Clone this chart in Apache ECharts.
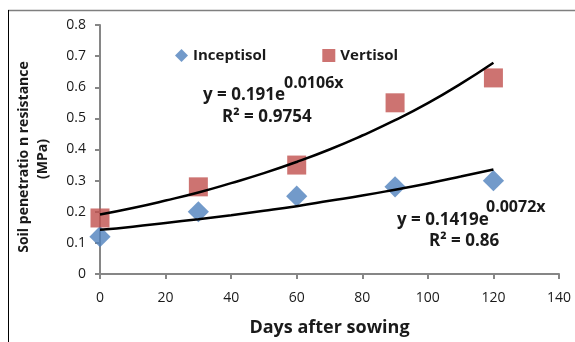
<!DOCTYPE html>
<html><head><meta charset="utf-8">
<script src="https://cdn.jsdelivr.net/npm/echarts@6/dist/echarts.min.js"></script>
<style>html,body{margin:0;padding:0;background:#fff}#c{width:575px;height:342px}</style>
</head><body><div id="c"></div>
<script>
var days = [0, 30, 60, 90, 120];
var inceptisol = [0.12, 0.20, 0.25, 0.28, 0.30];
var vertisol = [0.18, 0.28, 0.35, 0.55, 0.63];
var trendDays = [0, 10, 20, 30, 40, 50, 60, 70, 80, 90, 100, 110, 120];
var inceptisolTrend = [0.142, 0.152, 0.164, 0.176, 0.189, 0.203, 0.218, 0.235, 0.252, 0.271, 0.291, 0.313, 0.336];
var vertisolTrend = [0.191, 0.212, 0.236, 0.262, 0.292, 0.324, 0.360, 0.400, 0.445, 0.494, 0.549, 0.611, 0.679];
var yTicks = ['0', '0.1', '0.2', '0.3', '0.4', '0.5', '0.6', '0.7', '0.8'];

function pairs(xs, ys){ return xs.map(function(x,i){return [x, ys[i]];}); }

var chart = echarts.init(document.getElementById('c'));
var F = 'Open Sans, Liberation Sans, sans-serif';
var axisGray = '#868686';
var txt = '#1a1a1a';
function label(x, y, text, size){
  return {type: 'text', x: x, y: y, z: 10,
    style: {text: text, font: 'bold ' + size + 'px ' + F, fill: txt, verticalAlign: 'middle', align: 'left'}};
}
chart.setOption({
  animation: false,
  grid: {left: 100, right: 16, top: 25, bottom: 66},
  xAxis: {
    type: 'value', min: 0, max: 140, interval: 20,
    axisLine: {lineStyle: {color: axisGray, width: 2}},
    axisTick: {show: true, length: 5, lineStyle: {color: axisGray, width: 2}},
    splitLine: {show: false},
    axisLabel: {color: txt, fontFamily: F, fontSize: 14, margin: 17},
    name: 'Days after sowing', nameLocation: 'middle', nameGap: 45,
    nameTextStyle: {color: txt, fontFamily: F, fontSize: 18, fontWeight: 'bold'}
  },
  yAxis: {
    type: 'value', min: 0, max: 0.8, interval: 0.1,
    axisLine: {show: true, lineStyle: {color: axisGray, width: 2}},
    axisTick: {show: true, length: 5, lineStyle: {color: axisGray, width: 2}},
    splitLine: {show: false},
    axisLabel: {color: txt, fontFamily: F, fontSize: 14, margin: 14,
      formatter: function(v){ return yTicks[Math.round(v*10)]; }}
  },
  legend: {
    left: 170, top: 43, itemGap: 56, itemWidth: 13, itemHeight: 13,
    textStyle: {color: txt, fontFamily: F, fontSize: 15, fontWeight: 'bold'},
    data: [
      {name: 'Inceptisol', icon: 'diamond'},
      {name: 'Vertisol', icon: 'rect'}
    ]
  },
  series: [
    {name: 'InceptisolTrend', type: 'line', data: pairs(trendDays, inceptisolTrend), smooth: true,
     showSymbol: false, lineStyle: {color: '#000', width: 2.5}, z: 3},
    {name: 'VertisolTrend', type: 'line', data: pairs(trendDays, vertisolTrend), smooth: true,
     showSymbol: false, lineStyle: {color: '#000', width: 2.5}, z: 3},
    {name: 'Inceptisol', type: 'scatter', data: pairs(days, inceptisol), symbol: 'rect',
     symbolSize: 15, symbolRotate: 45, itemStyle: {color: '#4F81BD'}, z: 2},
    {name: 'Vertisol', type: 'scatter', data: pairs(days, vertisol), symbol: 'rect',
     symbolSize: 19, itemStyle: {color: '#C0504D'}, z: 2}
  ],
  graphic: [
    {type: 'line', shape: {x1: 8, y1: 10.5, x2: 575, y2: 10.5}, style: {stroke: '#7f7f7f', lineWidth: 1.5}},
    {type: 'line', shape: {x1: 8.5, y1: 10, x2: 8.5, y2: 342}, style: {stroke: '#000', lineWidth: 1}},
    {type: 'text', x: 24, y: 157, rotation: Math.PI / 2, z: 10,
     style: {text: 'Soil penetratio n resistance', font: 'bold 14px ' + F, fill: txt, align: 'center', verticalAlign: 'middle'}},
    {type: 'text', x: 43, y: 159, rotation: Math.PI / 2, z: 10,
     style: {text: '(MPa)', font: 'bold 14px ' + F, fill: txt, align: 'center', verticalAlign: 'middle'}},
    label(203, 95, 'y = 0.191e', 17),
    label(284, 83, '0.0106x', 16),
    label(222, 117, 'R² = 0.9754', 17),
    label(397, 220, 'y = 0.1419e', 17),
    label(486, 207, '0.0072x', 16),
    label(429, 241, 'R² = 0.86', 17)
  ]
});
</script></body></html>
